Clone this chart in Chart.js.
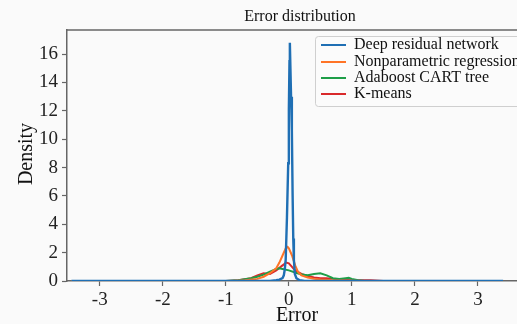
<!DOCTYPE html>
<html><head><meta charset="utf-8">
<script src="https://cdn.jsdelivr.net/npm/chart.js@4"></script>
<style>html,body{margin:0;padding:0;background:#fafafa;overflow:hidden}#wrap{width:517px;height:324px}</style>
</head><body><div id="wrap"><canvas id="c" width="517" height="324"></canvas></div>
<script>
const seriesNames = ["Deep residual network","Nonparametric regression","Adaboost CART tree","K-means"];
const seriesColors = ["#1f6fb4","#ff7426","#1e9e48","#d9292b"];
const xTicks = [-3,-2,-1,0,1,2,3];
const yTicks = [0,2,4,6,8,10,12,14,16];

const blueX = [-3.45,-0.3,-0.2,-0.15,-0.1,-0.08,-0.065,-0.05,-0.03,-0.01,0.0,0.01,0.016,0.025,0.035,0.048,0.06,0.07,0.08,0.095,0.12,0.17,0.25,3.4];
const blueY = [0,0,0.05,0.1,0.2,0.4,0.8,1.5,4.5,8.3,12,15.5,16.8,15,13,10.6,6,3,1.5,0.5,0.2,0.05,0,0];

const orangeX = [-3.45,-0.9,-0.7,-0.5,-0.4,-0.3,-0.2,-0.15,-0.1,-0.05,-0.02,0.0,0.05,0.1,0.15,0.2,0.3,0.4,0.5,0.7,1.0,1.3,3.4];
const orangeY = [0,0,0.05,0.15,0.3,0.55,0.9,1.3,1.8,2.3,2.4,2.3,1.8,1.1,0.6,0.4,0.25,0.15,0.1,0.05,0.02,0,0];

const greenX = [-3.45,-1.0,-0.8,-0.6,-0.5,-0.4,-0.3,-0.2,-0.15,-0.1,0.0,0.1,0.2,0.3,0.4,0.5,0.6,0.7,0.8,0.9,0.95,1.0,1.1,1.2,3.4];
const greenY = [0,0,0.05,0.2,0.3,0.45,0.65,0.85,0.9,0.85,0.75,0.6,0.45,0.4,0.5,0.55,0.4,0.2,0.15,0.2,0.22,0.15,0.05,0,0];

const redX = [-3.45,-1.0,-0.8,-0.6,-0.5,-0.4,-0.3,-0.2,-0.1,-0.04,0.0,0.05,0.1,0.2,0.3,0.4,0.5,0.6,0.7,0.8,1.0,1.3,1.5,3.4];
const redY = [0,0,0.05,0.2,0.4,0.55,0.5,0.75,1.1,1.3,1.25,1.0,0.75,0.5,0.35,0.25,0.2,0.2,0.15,0.1,0.05,0.05,0,0];

const xsAll = [blueX, orangeX, greenX, redX];
const ysAll = [blueY, orangeY, greenY, redY];

const datasets = seriesNames.map((n,i)=>({
  label:n,
  data: xsAll[i].map((x,j)=>({x:x,y:ysAll[i][j]})),
  borderColor: seriesColors[i],
  backgroundColor: seriesColors[i],
  borderWidth: i===0?2.4:2,
  pointRadius: 0,
  tension: 0,
  fill:false
}));

const FONT = "'Liberation Serif','Times New Roman',serif";
const AXC = "#666";

const deco = {
  id:'deco',
  beforeDraw(chart){
    const c=chart.ctx; c.save(); c.fillStyle='#fafafa'; c.fillRect(0,0,chart.width,chart.height); c.restore();
  },
  afterDraw(chart){
    const c=chart.ctx, a=chart.chartArea;
    c.save();
    c.strokeStyle=AXC; c.lineWidth=1.5;
    c.beginPath(); c.moveTo(a.left,a.top); c.lineTo(a.right,a.top); c.stroke();
    c.fillStyle='#111'; c.font='16px '+FONT; c.textAlign='center'; c.textBaseline='middle';
    c.fillText('Error distribution', 300, 17);
    c.font='20px '+FONT;
    c.fillText('Error', 297, 316);
    c.translate(27,154); c.rotate(-Math.PI/2); c.fillText('Density',0,0);
    c.restore();
    c.save();
    const bx=315, by=36, bw=220, bh=70;
    c.fillStyle='rgba(250,250,250,0.85)'; c.strokeStyle='#cfcfcf'; c.lineWidth=1;
    c.beginPath(); c.roundRect(bx+0.5,by+0.5,bw,bh,3); c.fill(); c.stroke();
    c.font='16px '+FONT; c.textAlign='left'; c.textBaseline='middle';
    const rows=[45,62,78,94];
    chart.data.datasets.forEach((d,i)=>{
      c.strokeStyle=d.borderColor; c.lineWidth=2;
      c.beginPath(); c.moveTo(321,rows[i]); c.lineTo(346,rows[i]); c.stroke();
      c.fillStyle='#111'; c.fillText(d.label,354,rows[i]);
    });
    c.restore();
  }
};

new Chart(document.getElementById('c'),{
  type:'line',
  data:{datasets},
  plugins:[deco],
  options:{
    responsive:false, animation:false, parsing:true,
    layout:{padding:{left:0,right:0,top:30,bottom:0}},
    plugins:{legend:{display:false},title:{display:false},tooltip:{enabled:false}},
    scales:{
      x:{type:'linear',min:-3.52,max:3.62,
        afterFit(s){s.height=43;},
        afterBuildTicks(s){s.ticks=xTicks.map(v=>({value:v}));},
        grid:{drawOnChartArea:false,drawTicks:true,tickLength:5,tickColor:AXC,tickWidth:1.2},
        border:{display:true,color:AXC,width:1.5},
        ticks:{font:{family:FONT,size:19},color:'#222',padding:3,maxRotation:0,callback:v=>String(v)}
      },
      y:{type:'linear',min:0,max:17.7,
        afterFit(s){s.width=67;},
        afterBuildTicks(s){s.ticks=yTicks.map(v=>({value:v}));},
        grid:{drawOnChartArea:false,drawTicks:true,tickLength:5,tickColor:AXC,tickWidth:1.2},
        border:{display:true,color:AXC,width:1.5},
        ticks:{font:{family:FONT,size:19},color:'#222',padding:4,callback:v=>String(v)}
      }
    }
  }
});
</script></body></html>
